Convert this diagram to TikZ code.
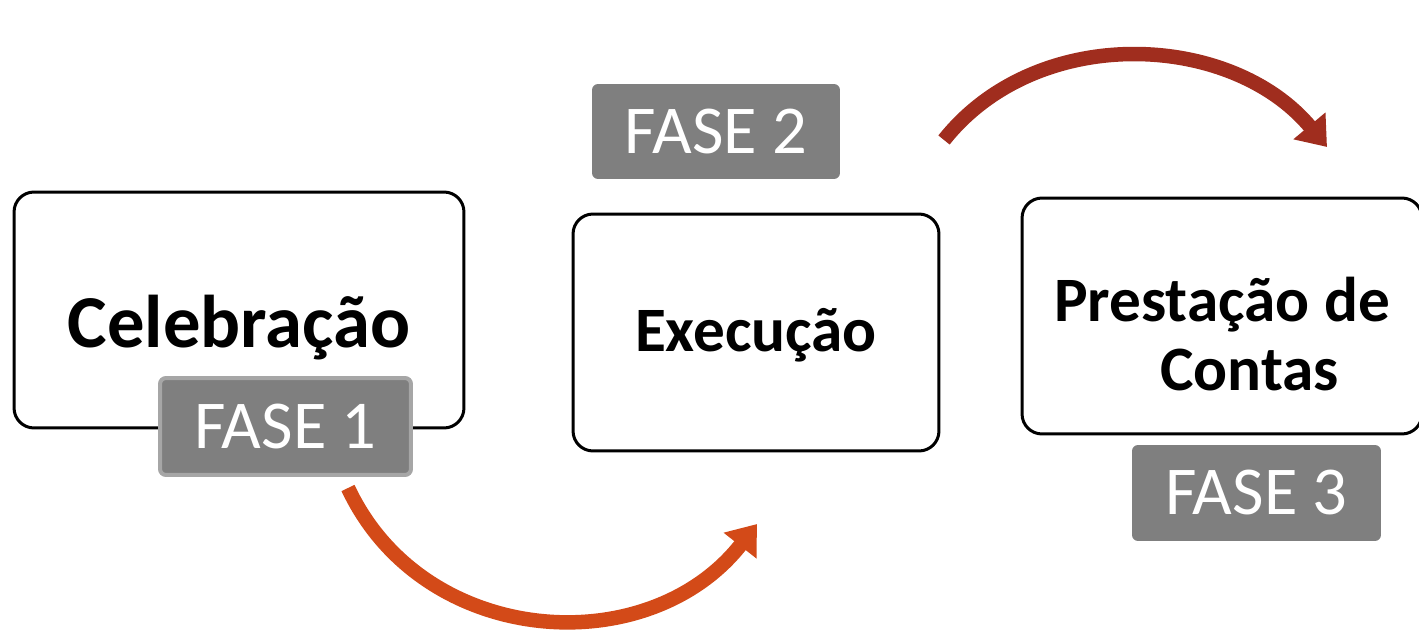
\documentclass[tikz,border=0pt]{standalone}
\usepackage{fontspec}
\setmainfont{Carlito}
\usetikzlibrary{arrows.meta,positioning}

\definecolor{faseGray}{RGB}{127,127,127}
\definecolor{faseEdge}{RGB}{166,166,166}
\definecolor{setaLaranja}{RGB}{211,74,24}
\definecolor{setaVermelha}{RGB}{160,45,30}

\begin{document}
\begin{tikzpicture}[x=0.02cm,y=-0.02cm,every node/.append style={font=\rmfamily},
    etapa/.style={draw=black,line width=0.06cm,rounded corners=0.4cm,fill=white,
                  align=center,inner sep=0pt},
    fase/.style={fill=faseGray,text=white,rounded corners=0.12cm,inner sep=0pt,
                 font=\fontsize{39}{42}\selectfont},
    seta/.style={line width=0.29cm,-{Triangle[length=0.55cm,width=0.8cm]}}]
    \useasboundingbox (0,0) rectangle (1419,634);

    % caixas das etapas
    \node[etapa,minimum width=9cm,minimum height=4.72cm,text height=43pt,text depth=0pt,
          font=\bfseries\fontsize{42.5}{46}\selectfont] (celebracao) at (239,310) {Celebração};
    \node[etapa,minimum width=7.32cm,minimum height=4.74cm,text height=22pt,text depth=0pt,
          font=\bfseries\fontsize{36}{40}\selectfont] (execucao) at (756,332.5) {Execução};
    \node[etapa,minimum width=8cm,minimum height=4.72cm,
          font=\bfseries\fontsize{36}{39.5}\selectfont] (prestacao) at (1222,316)
          {\rule{0pt}{46pt}Prestação de\\\hspace*{1.1cm}Contas};

    % rotulos das fases
    \node[fase,draw=faseEdge,line width=0.08cm,minimum width=5.02cm,minimum height=1.94cm]
          (fase1) at (285.5,426.5) {FASE 1};
    \node[fase,minimum width=4.96cm,minimum height=1.9cm] (fase2) at (716,131.5) {FASE 2};
    \node[fase,minimum width=4.98cm,minimum height=1.92cm] (fase3) at (1256.5,493) {FASE 3};

    % setas
    \coordinate (ini1) at (348,488);
    \coordinate (fim1) at (757,524);
    \coordinate (ini2) at (944,140);
    \coordinate (fim2) at (1327,147);
    \draw[seta,setaLaranja] (ini1) .. controls (423,648) and (648,663) .. (fim1);
    \draw[seta,setaVermelha] (ini2) .. controls (1037,23) and (1231,32) .. (fim2);
\end{tikzpicture}
\end{document}
